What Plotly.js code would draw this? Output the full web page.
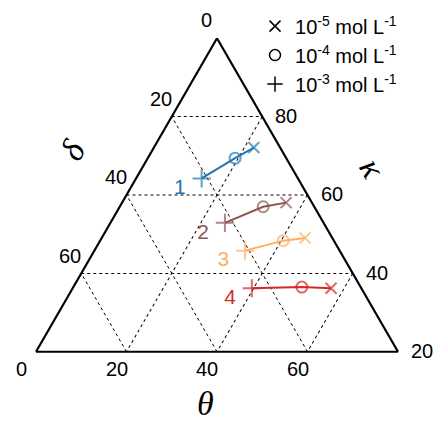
<!DOCTYPE html>
<html><head><meta charset="utf-8">
<script src="https://cdn.plot.ly/plotly-3.0.1.min.js"></script>
<style>html,body{margin:0;padding:0;background:#fff}</style>
</head><body><div id="chart" style="width:437px;height:421px"></div>
<script>
// ternary values: kappa (top corner), delta (left axis), theta (bottom axis)
const seriesLabels = ['1', '2', '3', '4'];
const seriesColors = ['#1f77b4', '#8c564b', '#fdae61', '#d62728'];
// point order in each series: 1e-3 (+), 1e-4 (o), 1e-5 (x)
const kappa = [[64.3, 69.4, 72.1], [52.9, 57.0, 58.0], [45.8, 48.4, 49.0], [36.2, 36.5, 36.2]];
const delta = [[21.3, 11.3, 5.8], [21.8, 11.3, 5.7], [20.9, 11.2, 6.0], [24.2, 13.0, 6.7]];
const theta = [[14.5, 19.3, 22.1], [25.3, 31.7, 36.2], [33.3, 40.5, 44.9], [39.6, 50.5, 57.1]];
const pointSymbols = ['cross-thin-open', 'circle-open', 'x-thin-open'];
const concNames = ['10<sup>-5</sup> mol L<sup>-1</sup>', '10<sup>-4</sup> mol L<sup>-1</sup>', '10<sup>-3</sup> mol L<sup>-1</sup>'];
const concSymbols = ['x-thin-open', 'circle-open', 'cross-thin-open'];
// axis ticks
const deltaTicks = [0, 20, 40, 60];
const thetaTicks = [0, 20, 40, 60];
const kappaTicks = [80, 60, 40, 20];
const SUM = 100, KMIN = 20;

const font = 'Liberation Sans, Arial, sans-serif';
const serif = 'Liberation Serif, Times New Roman, serif';
const traces = [];
seriesLabels.forEach((lab, i) => {
  traces.push({
    type: 'scatterternary',
    mode: 'lines+markers',
    a: kappa[i], b: delta[i], c: theta[i],
    line: {color: seriesColors[i], width: 2},
    marker: {symbol: pointSymbols, size: [13, 11, 11], color: seriesColors[i],
             line: {color: seriesColors[i], width: 2}},
    showlegend: false, cliponaxis: false, hoverinfo: 'skip'
  });
  // series number next to the 1e-3 point
  traces.push({
    type: 'scatterternary',
    mode: 'text',
    a: [kappa[i][0]], b: [delta[i][0]], c: [theta[i][0]],
    text: [lab + '\u00a0\u00a0\u2009'],
    textposition: 'bottom left',
    textfont: {family: font, size: 21, color: seriesColors[i]},
    showlegend: false, cliponaxis: false, hoverinfo: 'skip'
  });
});
concNames.forEach((nm, j) => {
  traces.push({
    type: 'scatterternary', mode: 'markers', a: [null], b: [null], c: [null],
    name: nm, hoverinfo: 'skip',
    marker: {symbol: concSymbols[j], size: 11, color: 'black', line: {color: 'black', width: 1.5}}
  });
});

// ternary (kappa, theta) -> paper coordinates of the triangle
function t2p(k, t) {
  const kp = (k - KMIN) / (SUM - KMIN), tp = t / (SUM - KMIN);
  return {x: tp + 0.5 * kp, y: kp};
}
const tickFont = {family: font, size: 20, color: 'black'};
const ann = [];
deltaTicks.forEach(d => { const p = t2p(SUM - d, 0);
  ann.push({xref: 'paper', yref: 'paper', x: p.x, y: p.y, text: String(d), showarrow: false,
    xanchor: 'center', yanchor: 'middle', xshift: -11, yshift: 18, font: tickFont}); });
thetaTicks.forEach(t => { const p = t2p(KMIN, t);
  ann.push({xref: 'paper', yref: 'paper', x: p.x, y: p.y, text: String(t), showarrow: false,
    xanchor: 'center', yanchor: 'middle', xshift: t === 0 ? -15 : -10, yshift: -17, font: tickFont}); });
kappaTicks.forEach(k => { const p = t2p(k, SUM - k);
  ann.push({xref: 'paper', yref: 'paper', x: p.x, y: p.y, text: String(k), showarrow: false,
    xanchor: 'center', yanchor: 'middle', xshift: 24, yshift: 1, font: tickFont}); });
const titleFont = {family: serif, size: 34, color: 'black', style: 'italic'};
ann.push({xref: 'paper', yref: 'paper', x: 0.467, y: -0.165, text: '\u03b8', showarrow: false,
  xanchor: 'center', yanchor: 'middle', font: titleFont});
ann.push({xref: 'paper', yref: 'paper', x: 0.102, y: 0.645, text: '\u03b4', showarrow: false, textangle: -60,
  xanchor: 'center', yanchor: 'middle', font: titleFont});
ann.push({xref: 'paper', yref: 'paper', x: 0.93, y: 0.585, text: '\u03ba', showarrow: false, textangle: 60,
  xanchor: 'center', yanchor: 'middle', font: titleFont});

const axBase = {
  showline: true, linecolor: 'black', linewidth: 2.2,
  showgrid: true, gridcolor: 'black', gridwidth: 1, griddash: 'dot',
  ticks: '', tickmode: 'array', showticklabels: false,
  title: {text: ''}
};
const layout = {
  width: 437, height: 421,
  margin: {l: 36, r: 39, t: 38, b: 69, autoexpand: false},
  paper_bgcolor: 'white',
  font: {family: font, color: 'black'},
  showlegend: true,
  legend: {x: 0.605, y: 1.10, xanchor: 'left', yanchor: 'top', bgcolor: 'rgba(0,0,0,0)',
           font: {family: font, size: 20, color: 'black'}, itemwidth: 30},
  ternary: {
    sum: SUM, bgcolor: 'white',
    aaxis: Object.assign({}, axBase, {min: KMIN, tickvals: deltaTicks.map(d => SUM - d)}),
    baxis: Object.assign({}, axBase, {min: 0, tickvals: thetaTicks.map(t => SUM - KMIN - t)}),
    caxis: Object.assign({}, axBase, {min: 0, tickvals: kappaTicks.map(k => SUM - k)})
  },
  annotations: ann
};
Plotly.newPlot('chart', traces, layout, {displayModeBar: false, staticPlot: true});
</script></body></html>
